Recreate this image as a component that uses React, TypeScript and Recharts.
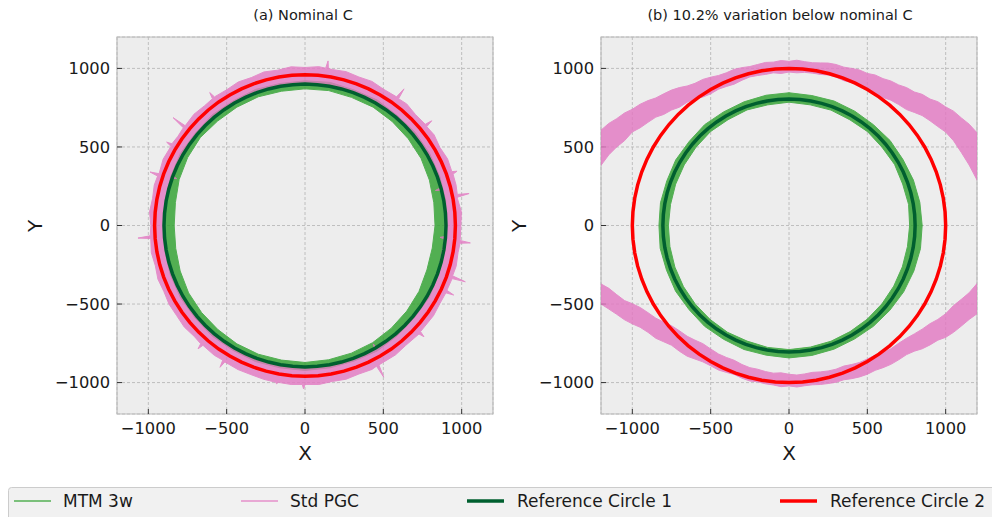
import React from 'react';
import { ScatterChart, Scatter, XAxis, YAxis, CartesianGrid, ReferenceArea } from 'recharts';

// ---------- axes ----------
const TICKS = [-1000, -500, 0, 500, 1000];
const DOMAIN: [number, number] = [-1200, 1200];
const TITLES = ['(a) Nominal C', '(b) 10.2% variation below nominal C'];
const LEGEND_LABELS = ['MTM 3w', 'Std PGC', 'Reference Circle 1', 'Reference Circle 2'];

// ---------- reference circles (radius per panel a, b) ----------
const CIRCLE_ANGLES = [0, 5, 10, 15, 20, 25, 30, 35, 40, 45, 50, 55, 60, 65, 70, 75, 80, 85, 90, 95, 100, 105, 110, 115, 120, 125, 130, 135, 140, 145, 150, 155, 160, 165, 170, 175, 180, 185, 190, 195, 200, 205, 210, 215, 220, 225, 230, 235, 240, 245, 250, 255, 260, 265, 270, 275, 280, 285, 290, 295, 300, 305, 310, 315, 320, 325, 330, 335, 340, 345, 350, 355, 360];
const REF1_RADIUS = [900, 805];
const REF2_RADIUS = [960, 1000];

// ---------- MTM 3w bands (radius at each angle) ----------
const BAND_ANGLES = [0, 10, 20, 30, 40, 50, 60, 70, 80, 90, 100, 110, 120, 130, 140, 150, 160, 170, 180, 190, 200, 210, 220, 230, 240, 250, 260, 270, 280, 290, 300, 310, 320, 330, 340, 350, 360];
const MTM_A_INNER = [830, 835, 845, 855, 860, 865, 870, 868, 872, 870, 868, 872, 870, 868, 872, 865, 855, 840, 835, 838, 848, 858, 862, 865, 870, 872, 870, 872, 868, 865, 862, 855, 848, 840, 828, 825, 830];
const MTM_A_OUTER = [905, 912, 915, 918, 920, 915, 922, 918, 925, 921, 918, 922, 916, 920, 914, 918, 912, 908, 906, 910, 915, 918, 916, 920, 918, 922, 920, 923, 920, 918, 922, 916, 912, 915, 908, 906, 905];
const MTM_B_INNER = [770, 775, 772, 778, 775, 780, 777, 782, 780, 785, 780, 783, 778, 780, 775, 772, 770, 768, 770, 772, 775, 778, 780, 782, 785, 783, 788, 790, 786, 784, 780, 778, 775, 772, 770, 768, 770];
const MTM_B_OUTER = [850, 848, 845, 840, 842, 838, 840, 843, 840, 845, 842, 838, 835, 838, 832, 835, 830, 833, 830, 835, 832, 836, 833, 838, 836, 840, 838, 843, 840, 838, 835, 838, 840, 845, 848, 852, 850];

// ---------- Std PGC, panel a: [angle, radius] ----------
const PGC_A_OUTER: [number, number][] = [
  [0, 995], [5, 1002], [10, 988], [10.5, 990], [11, 1067], [11.5, 992], [15, 998], [19.1, 1000], [19.6, 1030], [20.1, 998],
  [25, 1004], [30, 994], [35, 1006], [39, 1000], [39.5, 1048], [40, 1002], [45, 998], [50, 1010], [53.5, 1004], [54, 1075],
  [54.5, 1006], [60, 1002], [65, 1012], [70, 1006], [75, 1014], [80, 1008], [81.5, 1010], [82, 1058], [82.5, 1010], [85, 1015],
  [90, 1006], [95, 1014], [100, 1004], [105, 1012], [110, 1002], [115, 1008], [120, 998], [125.2, 1002], [125.7, 1042],
  [126.2, 1000], [130, 996], [135, 1002], [140.3, 994], [140.8, 1086], [141.3, 995], [145, 990], [148.5, 996], [149, 1030],
  [149.5, 993], [155, 999], [160.5, 988], [161, 1046], [161.5, 992], [165, 996], [170, 988], [175, 996], [180, 984],
  [183.8, 990], [184.3, 1069], [184.8, 988], [190, 996], [195, 989], [200, 999], [205, 994], [210, 1002], [215, 1000],
  [220, 1006], [225, 999], [228.5, 1005], [229, 1040], [229.5, 1003], [235, 1009], [238.5, 1005], [239, 1053], [239.5, 1008],
  [245, 1012], [250, 1010], [255, 1014], [259.3, 1015], [259.8, 1024], [260.3, 1013], [265, 1016], [269, 1012], [269.5, 1040],
  [270, 1012], [275, 1016], [280, 1008], [285, 1013], [290, 1006], [295, 1011], [297, 1005], [297.5, 1088], [298, 1005],
  [305, 1006], [310, 998], [316.5, 1003], [317, 1038], [317.5, 1000], [325, 1001], [330, 994], [334.5, 996], [335, 1047],
  [335.5, 995], [340.2, 998], [340.7, 1084], [341.2, 995], [345, 999], [350, 992], [353.5, 996], [354, 1061], [354.5, 995],
  [360, 995],
];
const PGC_A_INNER: [number, number][] = [
  [0, 895], [10, 900], [14.5, 898], [15, 862], [15.5, 898], [20, 895], [30, 905], [40, 900], [50, 908],
  [60, 905], [70, 910], [80, 908], [90, 912], [100, 908], [110, 910], [120, 905], [130, 908], [140, 900],
  [150, 905], [159.5, 898], [160, 872], [160.5, 898], [170, 902], [180, 898], [190, 900], [200, 905],
  [210, 900], [220, 908], [230, 905], [240, 910], [250, 908], [260, 912], [270, 910], [280, 912],
  [290, 905], [299.5, 906], [300, 870], [300.5, 906], [310, 900], [320, 905], [330, 895], [340, 900],
  [350, 892], [354.5, 894], [355, 865], [355.5, 894], [360, 895],
];

// ---------- Std PGC, panel b: upper and lower arcs (y edges at each x) ----------
const PGC_B_X = [-1400, -1350, -1300, -1250, -1200, -1150, -1100, -1050, -1000, -950, -900, -850, -800, -750, -700, -650, -600, -550, -500, -450, -400, -350, -300, -250, -200, -150, -100, -50, 0, 50, 100, 150, 200, 250, 300, 350, 400, 450, 500, 550, 600, 650, 700, 750, 800, 850, 900, 950, 1000, 1050, 1100, 1150, 1200, 1250, 1300, 1350, 1400];
const PGC_B_UPPER_TOP = [430, 482, 520, 568, 607, 650, 680, 716, 740, 772, 795, 812, 838, 862, 878, 888, 905, 930, 944, 955, 972, 994, 1005, 1012, 1025, 1038, 1040, 1050, 1045, 1052, 1043, 1036, 1035, 1034, 1025, 1008, 1000, 990, 968, 958, 935, 920, 895, 878, 850, 835, 805, 788, 755, 728, 685, 645, 590, 545, 490, 445, 390];
const PGC_B_UPPER_BOTTOM = [30, 130, 220, 300, 383, 450, 500, 540, 596, 622, 657, 690, 707, 735, 753, 785, 805, 818, 838, 868, 885, 900, 925, 946, 955, 962, 972, 968, 977, 972, 975, 970, 962, 958, 945, 922, 910, 895, 870, 840, 815, 798, 770, 738, 720, 700, 667, 630, 595, 540, 465, 385, 290, 200, 110, 10, -90];
const PGC_B_LOWER_TOP = [-150, -200, -260, -322, -372, -400, -440, -478, -498, -522, -555, -590, -615, -638, -670, -705, -730, -752, -786, -818, -840, -858, -885, -905, -915, -930, -940, -938, -947, -952, -945, -935, -932, -926, -915, -895, -885, -872, -850, -825, -810, -785, -750, -718, -690, -660, -625, -598, -562, -510, -470, -428, -370, -305, -250, -180, -110];
const PGC_B_LOWER_BOTTOM = [-390, -418, -450, -482, -500, -532, -565, -600, -626, -648, -680, -718, -740, -762, -800, -832, -850, -868, -893, -920, -935, -948, -972, -990, -995, -1008, -1015, -1026, -1021, -1028, -1020, -1014, -1012, -1006, -998, -982, -975, -964, -947, -922, -905, -884, -855, -822, -800, -785, -760, -730, -712, -680, -640, -598, -562, -515, -470, -410, -360];

// ---------- helpers building point tables ----------
type Pt = { x: number; y: number };
const rad = (d: number) => (d * Math.PI) / 180;
const polar = (a: number, r: number): Pt => ({ x: r * Math.cos(rad(a)), y: r * Math.sin(rad(a)) });

function circle(r: number): Pt[] {
  return CIRCLE_ANGLES.map((a) => polar(a, r));
}
function radialBand(outer: number[], inner: number[]): Pt[] {
  const o = BAND_ANGLES.map((a, i) => polar(a, outer[i]));
  const n = BAND_ANGLES.map((a, i) => polar(a, inner[i])).reverse();
  const pts = [...o, ...n];
  pts.push(pts[0]);
  return pts;
}
function tupleBand(outer: [number, number][], inner: [number, number][]): Pt[] {
  const pts = [...outer.map(([a, r]) => polar(a, r)), ...[...inner].reverse().map(([a, r]) => polar(a, r))];
  pts.push(pts[0]);
  return pts;
}
function xBand(xs: number[], top: number[], bottom: number[]): Pt[] {
  const pts = [...xs.map((x, i) => ({ x, y: top[i] })), ...xs.map((x, i) => ({ x, y: bottom[i] })).reverse()];
  pts.push(pts[0]);
  return pts;
}

const COLORS = { mtm: '#2ca02c', pgc: '#e377c2', ref1: '#005f2f', ref2: '#ff0000' };
const FONT = "'DejaVu Sans', Verdana, sans-serif";
const fmt = (v: number) => String(v).replace('-', '\u2212');
const noShape = () => null;

type PanelProps = { left: number; mtm: Pt[]; pgc: Pt[][]; ref1: Pt[]; ref2: Pt[] };

function Panel({ left, mtm, pgc, ref1, ref2 }: PanelProps) {
  const tick = { fill: '#1a1a1a', fontSize: 16.3, fontFamily: FONT };
  return (
    <div style={{ position: 'absolute', left, top: 0 }}>
      <ScatterChart width={500} height={470} margin={{ top: 37, right: 7, bottom: 0, left: 0 }}>
        <CartesianGrid stroke="#b3b3b3" strokeDasharray="3 2" strokeWidth={0.8} fill="#ededed" fillOpacity={1} />
        <XAxis type="number" dataKey="x" domain={DOMAIN} ticks={TICKS} allowDataOverflow interval={0}
          height={56} tickSize={-5} tickMargin={13} axisLine={false}
          tickLine={{ stroke: '#333', strokeWidth: 1 }} tick={tick} tickFormatter={fmt} />
        <YAxis type="number" dataKey="y" domain={DOMAIN} ticks={TICKS} allowDataOverflow interval={0}
          width={117} tickSize={-5} tickMargin={12} axisLine={false}
          tickLine={{ stroke: '#333', strokeWidth: 1 }} tick={tick} tickFormatter={fmt} />
        <Scatter data={mtm} shape={noShape} isAnimationActive={false}
          line={{ fill: COLORS.mtm, stroke: COLORS.mtm, strokeWidth: 1, opacity: 0.8 }} />
        {pgc.map((d, i) => (
          <Scatter key={i} data={d} shape={noShape} isAnimationActive={false}
            line={{ fill: COLORS.pgc, stroke: COLORS.pgc, strokeWidth: 1, opacity: 0.8 }} />
        ))}
        <Scatter data={ref1} shape={noShape} isAnimationActive={false}
          line={{ fill: 'none', stroke: COLORS.ref1, strokeWidth: 3.5 }} />
        <Scatter data={ref2} shape={noShape} isAnimationActive={false}
          line={{ fill: 'none', stroke: COLORS.ref2, strokeWidth: 3.5 }} />
        <ReferenceArea x1={-1200} x2={1200} y1={-1200} y2={1200} fill="none" fillOpacity={0}
          stroke="#bcbcbc" strokeWidth={1.2} ifOverflow="visible" />
      </ScatterChart>
    </div>
  );
}

export default function App() {
  const panelA = {
    mtm: radialBand(MTM_A_OUTER, MTM_A_INNER),
    pgc: [tupleBand(PGC_A_OUTER, PGC_A_INNER)],
    ref1: circle(REF1_RADIUS[0]),
    ref2: circle(REF2_RADIUS[0]),
  };
  const panelB = {
    mtm: radialBand(MTM_B_OUTER, MTM_B_INNER),
    pgc: [xBand(PGC_B_X, PGC_B_UPPER_TOP, PGC_B_UPPER_BOTTOM), xBand(PGC_B_X, PGC_B_LOWER_TOP, PGC_B_LOWER_BOTTOM)],
    ref1: circle(REF1_RADIUS[1]),
    ref2: circle(REF2_RADIUS[1]),
  };
  const legendItems = [
    { x: 14, tx: 63, color: COLORS.mtm, w: 1.5, op: 0.8 },
    { x: 241, tx: 290, color: COLORS.pgc, w: 1.5, op: 0.8 },
    { x: 467, tx: 517, color: COLORS.ref1, w: 3.5, op: 1 },
    { x: 780, tx: 830, color: COLORS.ref2, w: 3.5, op: 1 },
  ];
  return (
    <div style={{ position: 'absolute', left: 0, top: 0, width: 992, height: 517, background: '#fff', overflow: 'hidden' }}>
      <Panel left={0} {...panelA} />
      <Panel left={484} {...panelB} />
      <svg width={992} height={517} style={{ position: 'absolute', left: 0, top: 0, pointerEvents: 'none' }}
        fontFamily={FONT}>
        <text x={303} y={20} textAnchor="middle" fontSize={14.5} fill="#1a1a1a">{TITLES[0]}</text>
        <text x={780} y={20} textAnchor="middle" fontSize={14.5} fill="#1a1a1a">{TITLES[1]}</text>
        <text x={305} y={460} textAnchor="middle" fontSize={20} fill="#1a1a1a">X</text>
        <text x={789} y={460} textAnchor="middle" fontSize={20} fill="#1a1a1a">X</text>
        <text x={42} y={226} textAnchor="middle" fontSize={20} fill="#1a1a1a" transform="rotate(-90 42 226)">Y</text>
        <text x={526} y={226} textAnchor="middle" fontSize={20} fill="#1a1a1a" transform="rotate(-90 526 226)">Y</text>
        <rect x={8.5} y={487.5} width={1000} height={40} rx={3} fill="#f1f1f1" stroke="#cccccc" strokeWidth={1} />
        {legendItems.map((it, i) => (
          <g key={i}>
            <line x1={it.x} x2={it.x + 37} y1={501} y2={501} stroke={it.color} strokeWidth={it.w} opacity={it.op} />
            <text x={it.tx} y={507} fontSize={17} fill="#1a1a1a">{LEGEND_LABELS[i]}</text>
          </g>
        ))}
      </svg>
    </div>
  );
}
